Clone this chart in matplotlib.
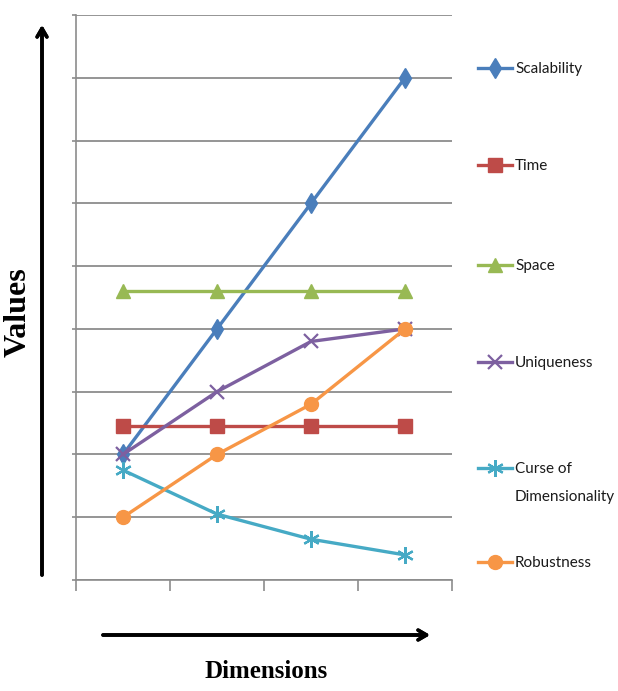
import matplotlib
matplotlib.use("Agg")
import matplotlib.pyplot as plt
from matplotlib.lines import Line2D

# four dimension steps, values on an unlabelled 0-9 scale
positions = [0.5, 1.5, 2.5, 3.5]

scalability = [2.0, 4.0, 6.0, 8.0]
time_cost = [2.45, 2.45, 2.45, 2.45]
space_cost = [4.6, 4.6, 4.6, 4.6]
uniqueness = [2.0, 3.0, 3.8, 4.0]
curse = [1.75, 1.05, 0.65, 0.4]
robustness = [1.0, 2.0, 2.8, 4.0]

names = ["Scalability", "Time", "Space", "Uniqueness",
         "Curse of\nDimensionality", "Robustness"]

series = [scalability, time_cost, space_cost, uniqueness, curse, robustness]
colors = ["#4A7EBB", "#BE4B48", "#98B954", "#7D60A0", "#46AAC5", "#F79646"]
markers = ["d", "s", "^", "x", (6, 2, 0), "o"]
msizes = [10, 10, 10, 10, 12, 10]

fig = plt.figure(figsize=(6.18, 6.91), dpi=100)
ax = fig.add_axes([0.123, 0.1606, 0.6084, 0.8177])

grid_col = "#8C8C8C"
ax.set_xlim(0, 4)
ax.set_ylim(0, 9)
ax.set_xticks(range(5))
ax.set_yticks(range(10))
ax.set_xticklabels([])
ax.set_yticklabels([])
ax.tick_params(axis="x", length=8, width=1.2, color=grid_col, direction="out")
ax.tick_params(axis="y", length=3, width=1.2, color=grid_col, direction="out")
ax.grid(axis="y", color=grid_col, linewidth=1.3)
ax.set_axisbelow(True)
for side in ["top", "right"]:
    ax.spines[side].set_visible(False)
for side in ["left", "bottom"]:
    ax.spines[side].set_color(grid_col)
    ax.spines[side].set_linewidth(1.2)

for vals, c, m, ms in zip(series, colors, markers, msizes):
    mew = 1.6 if m in ("x", (6, 2, 0)) else 1.0
    ax.plot(positions, vals, color=c, linewidth=2.4, marker=m, markersize=ms,
            markeredgewidth=mew, markerfacecolor=c, markeredgecolor=c,
            clip_on=False, zorder=3)

# legend on the right, laid out by hand
W, H = 618.0, 691.0
legend_y = [68, 165, 265, 362, 468, 562]
for name, c, m, ms, y in zip(names, colors, markers, msizes, legend_y):
    fy = 1 - y / H
    mew = 1.6 if m in ("x", (6, 2, 0)) else 1.0
    fig.add_artist(Line2D([478 / W, 512 / W], [fy, fy], color=c, linewidth=2.4,
                          transform=fig.transFigure))
    fig.add_artist(Line2D([495 / W], [fy], color=c, marker=m, markersize=ms,
                          markeredgewidth=mew, markerfacecolor=c, markeredgecolor=c,
                          linestyle="none", transform=fig.transFigure))
    fig.text(515 / W, fy + 6 / H, name, ha="left", va="top", fontsize=11,
             color="#1A1A1A", linespacing=2.3, family=["Lato", "DejaVu Sans"])

# axis arrows and titles
arrow = dict(arrowstyle="->,head_length=0.6,head_width=0.35", color="black",
             linewidth=2.6, shrinkA=0, shrinkB=0)
fig.add_artist(plt.annotate("", xy=(42 / W, 1 - 25 / H), xytext=(42 / W, 1 - 575 / H),
                            xycoords="figure fraction", textcoords="figure fraction",
                            arrowprops=arrow))
fig.add_artist(plt.annotate("", xy=(430 / W, 1 - 635 / H), xytext=(103 / W, 1 - 635 / H),
                            xycoords="figure fraction", textcoords="figure fraction",
                            arrowprops=arrow))

fig.text(18 / W, 1 - 312 / H, "Values", rotation=90, ha="center", va="center",
         fontsize=23, fontweight="bold", family="Liberation Serif")
fig.text(266 / W, 1 - 672 / H, "Dimensions", ha="center", va="center",
         fontsize=18, fontweight="bold", family="Liberation Serif")

fig.savefig("out.png", dpi=100)
